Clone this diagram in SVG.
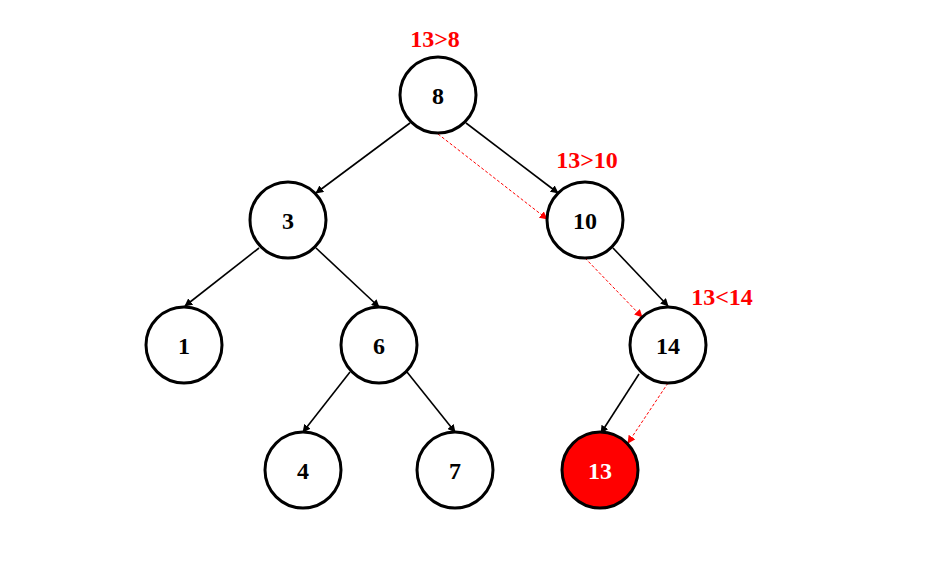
<svg xmlns="http://www.w3.org/2000/svg" width="929" height="573" viewBox="0 0 929 573">
<style>
.n{fill:#fff;stroke:#000;stroke-width:3}
.hl{fill:#f00;stroke:#000;stroke-width:3}
.t{font-family:"Liberation Serif",serif;font-weight:bold;font-size:24px;text-anchor:middle;fill:#000}
.tw{fill:#fff}
.lbl{font-family:"Liberation Serif",serif;font-weight:bold;font-size:24px;text-anchor:middle;fill:#f00}
.e{stroke:#000;stroke-width:1.6;fill:none;marker-end:url(#ab)}
.d{stroke:#f00;stroke-width:1;stroke-dasharray:3,2;fill:none;marker-end:url(#ar)}
</style>
<defs>
<marker id="ab" viewBox="0 0 10 10" refX="9" refY="5" markerWidth="8" markerHeight="8" markerUnits="userSpaceOnUse" orient="auto"><path d="M0,0 L10,5 L0,10 z" fill="#000"/></marker>
<marker id="ar" viewBox="0 0 10 10" refX="9" refY="5" markerWidth="8" markerHeight="8" markerUnits="userSpaceOnUse" orient="auto"><path d="M0,0 L10,5 L0,10 z" fill="#f00"/></marker>
</defs>
<rect width="929" height="573" fill="#fff"/>
<g id="connectors">
<line class="e" x1="410" y1="123" x2="316" y2="193"/>
<line class="e" x1="466" y1="123" x2="558" y2="193"/>
<line class="e" x1="259" y1="248" x2="185" y2="306"/>
<line class="e" x1="316" y1="248" x2="379" y2="307"/>
<line class="e" x1="613" y1="248" x2="668" y2="306"/>
<line class="e" x1="350" y1="372" x2="303" y2="432"/>
<line class="e" x1="407" y1="372" x2="455" y2="432"/>
<line class="e" x1="639" y1="374" x2="601" y2="433"/>
<line class="d" x1="438" y1="134" x2="547" y2="219"/>
<line class="d" x1="585" y1="258" x2="642" y2="317"/>
<line class="d" x1="668" y1="383" x2="628" y2="443"/>
</g>
<g id="n8"><circle class="n" cx="438" cy="95" r="38"/><text class="t" x="438" y="104">8</text></g>
<g id="n3"><circle class="n" cx="288" cy="220" r="38"/><text class="t" x="288" y="229">3</text></g>
<g id="n10"><circle class="n" cx="585" cy="220" r="38"/><text class="t" x="585" y="229">10</text></g>
<g id="n1"><circle class="n" cx="184" cy="345" r="38"/><text class="t" x="184" y="354">1</text></g>
<g id="n6"><circle class="n" cx="379" cy="345" r="38"/><text class="t" x="379" y="354">6</text></g>
<g id="n14"><circle class="n" cx="668" cy="345" r="38"/><text class="t" x="668" y="354">14</text></g>
<g id="n4"><circle class="n" cx="303" cy="470" r="38"/><text class="t" x="303" y="479">4</text></g>
<g id="n7"><circle class="n" cx="455" cy="470" r="38"/><text class="t" x="455" y="479">7</text></g>
<g id="n13"><circle class="hl" cx="600" cy="470" r="38"/><text class="t tw" x="600" y="479">13</text></g>
<g id="labels">
<text class="lbl" x="435" y="47">13&gt;8</text>
<text class="lbl" x="587" y="168">13&gt;10</text>
<text class="lbl" x="722" y="305">13&lt;14</text>
</g>
</svg>
